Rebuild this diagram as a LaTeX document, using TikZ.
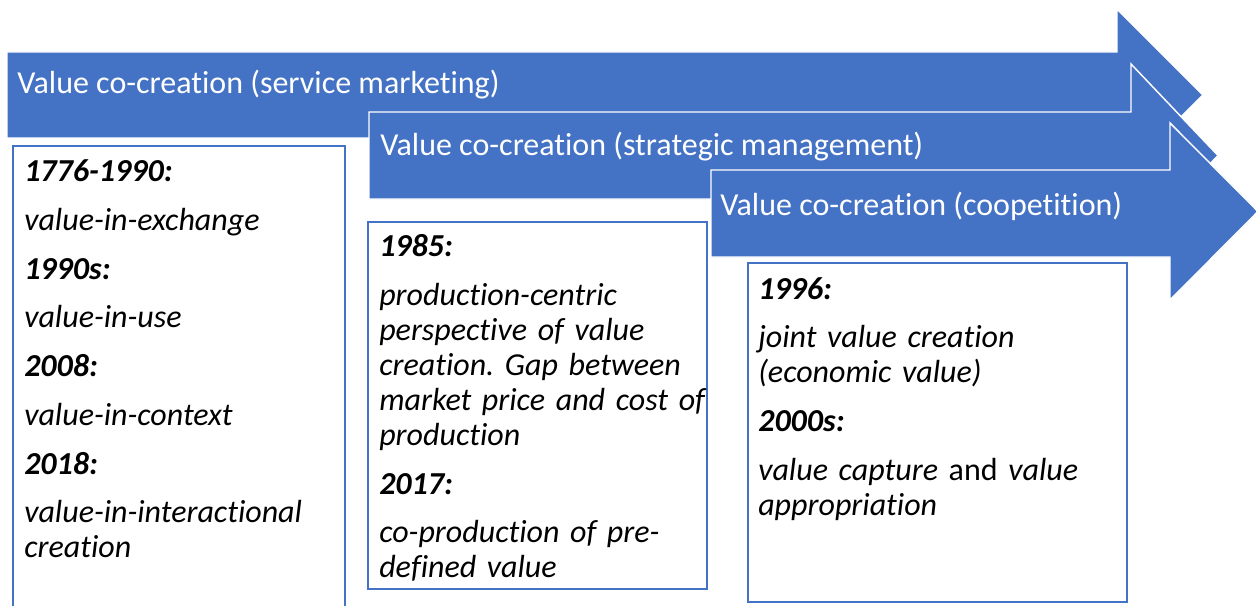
\documentclass[tikz,border=0pt]{standalone}
\usepackage{fontspec}
\setmainfont{Carlito}[Ligatures=NoCommon]
\definecolor{accent}{HTML}{4472C4}
\frenchspacing
\begin{document}
\begin{tikzpicture}[x=0.75pt,y=-0.75pt,
  band/.style={fill=accent,draw=white,line width=1.1pt,line join=miter},
  bandlabel/.style={anchor=base west,inner sep=0,text=white,font=\fontsize{24}{29}\selectfont},
  yearbox/.style={draw=accent,line width=1.1pt,fill=white},
  boxtext/.style={anchor=base west,inner sep=0,align=left,text width=330pt,
    font=\fontsize{24}{26.25}\selectfont\itshape}]
\clip (0,0) rectangle (1256,606);
\fill[white] (0,0) rectangle (1256,606);

% three overlapping block arrows, back to front
\path[band] (7,52) -- (1117,52) -- (1117,9) -- (1203,95) -- (1117,181) -- (1117,138) -- (7,138) -- cycle;
\node[bandlabel] (t1) at (17,94) {Value co-creation (service marketing)};

\path[band] (369,112) -- (1131,112) -- (1131,64) -- (1218,155.5) -- (1131,247) -- (1131,199) -- (369,199) -- cycle;
\node[bandlabel] (t2) at (380,156) {Value co-creation (strategic management)};

\path[band] (711,170) -- (1170,170) -- (1170,123) -- (1258,211.5) -- (1170,300) -- (1170,257) -- (711,257) -- cycle;
\node[bandlabel] (t3) at (720,215) {Value co-creation (coopetition)};

% text boxes below the arrows
\draw[yearbox] (13,146) rectangle (345,640);
\draw[yearbox] (368,222) rectangle (707,589);
\draw[yearbox] (748,263) rectangle (1127,602);

\node[boxtext] (b1) at (24,181.7) {%
  \textbf{1776-1990:}\\[10.3pt]
  value-in-exchange\\[10.3pt]
  \textbf{1990s:}\\[10.3pt]
  value-in-use\\[10.3pt]
  \textbf{2008:}\\[10.3pt]
  value-in-context\\[10.3pt]
  \textbf{2018:}\\[10.3pt]
  value-in-interactional\\
  creation};

\node[boxtext] (b2) at (379,256.7) {%
  \textbf{1985:}\\[10.3pt]
  production-centric\\
  perspective of value\\
  creation. Gap between\\
  market price and cost of\\
  production\\[10.3pt]
  \textbf{2017:}\\[10.3pt]
  co-production of pre-\\
  defined value};

\node[boxtext] (b3) at (758,299) {%
  \textbf{1996:}\\[10.3pt]
  joint value creation\\
  (economic value)\\[10.3pt]
  \textbf{2000s:}\\[10.3pt]
  value capture {\upshape and} value\\
  appropriation};
\end{tikzpicture}
\end{document}
